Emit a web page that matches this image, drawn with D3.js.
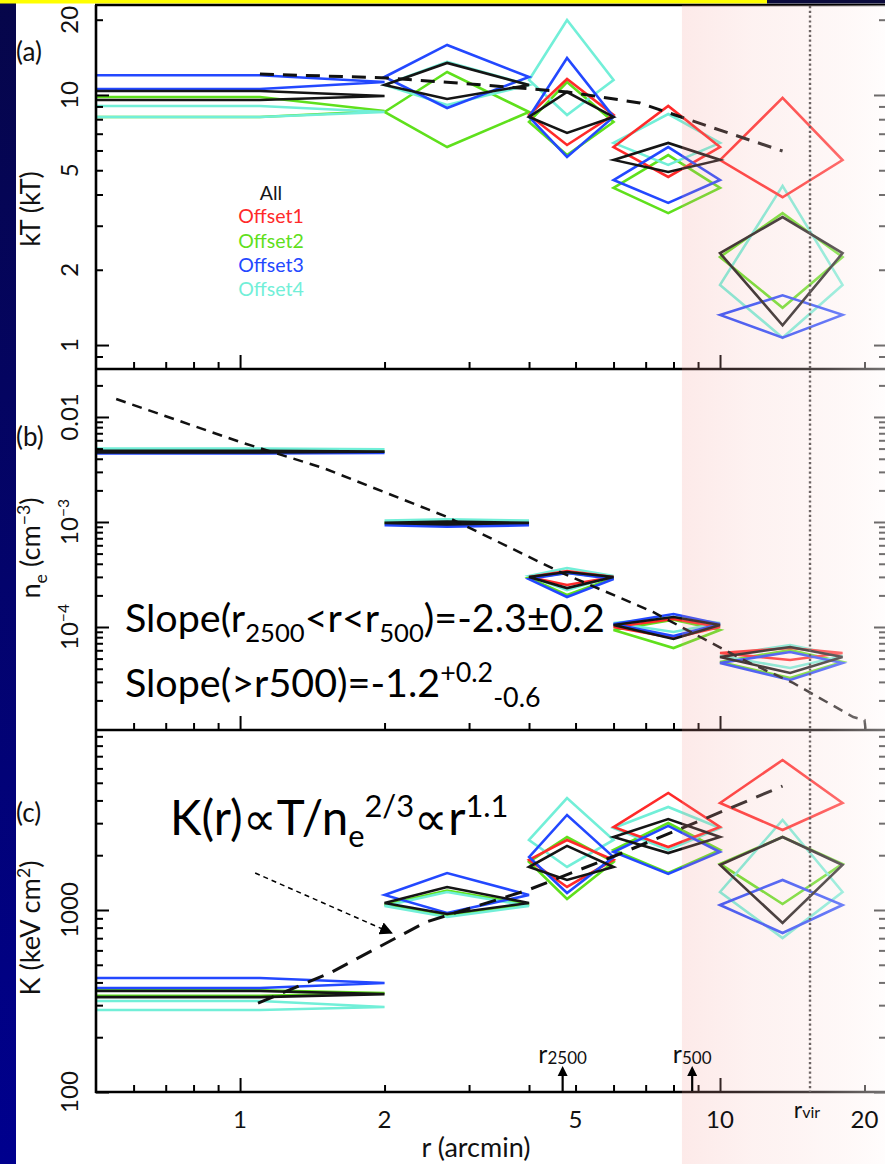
<!DOCTYPE html>
<html>
<head>
<meta charset="utf-8">
<script src="https://cdn.jsdelivr.net/npm/d3@7"></script>
<style>
html, body { margin: 0; padding: 0; background: #fff; }
svg { display: block; }
text { font-family: Lato, "Open Sans", sans-serif; }
</style>
</head>
<body>
<svg id="chart" width="885" height="1164"></svg>
<script>
// radial bins (arcmin); first bin starts at the centre
var binLo = [0, 2, 4, 6, 10];
var binHi = [2, 4, 6, 10, 18];
var midT = [1.1, 2.7, 4.8, 7.8, 13.5];
var midNe = [1.1, 2.7, 4.8, 8.0, 14.0];
var midK = [1.1, 2.7, 4.8, 7.8, 13.5];

var seriesNames = ["All", "Offset1", "Offset2", "Offset3", "Offset4"];

// [lower, value, upper] per bin
var ktAll  = [[9.55, 9.91, 10.37], [9.64, 10.96, 13.43], [7.05, 8.17, 10.28], [4.92, 5.5, 6.43], [1.2, 2.33, 3.25]];
var ktOff1 = [null, null, [6.31, 8.32, 11.59], [4.7, 6.19, 9.04], [3.9, 5.49, 9.73]];
var ktOff2 = [[8.17, 8.63, 9.82], [6.19, 8.55, 12.36], [5.75, 7.8, 11.27], [3.37, 4.25, 5.75], [1.41, 2.25, 3.37]];
var ktOff3 = [[10.57, 11.27, 12.0], [8.87, 11.8, 15.85], [5.65, 8.17, 14.06], [3.7, 4.57, 6.19], [1.07, 1.32, 1.58]];
var ktOff4 = [[8.17, 8.55, 9.04], [9.12, 10.96, 13.55], [8.32, 11.48, 19.95], [5.25, 6.43, 8.39], [1.07, 1.74, 4.33]];

var neAll  = [[4.6e-3, 4.68e-3, 4.76e-3], [9.5e-4, 9.8e-4, 1.01e-3], [2.35e-4, 2.99e-4, 3.34e-4], [7.69e-5, 1.045e-4, 1.245e-4], [3.65e-5, 5.18e-5, 6.45e-5]];
var neOff1 = [null, null, [2.51e-4, 2.99e-4, 3.41e-4], [7.86e-5, 1.0e-4, 1.19e-4], [4.85e-5, 5.65e-5, 6.31e-5]];
var neOff2 = [[4.62e-3, 4.7e-3, 4.78e-3], [9.5e-4, 9.8e-4, 1.01e-3], [2.02e-4, 2.93e-4, 3.27e-4], [6.3e-5, 9.36e-5, 1.17e-4], [3.27e-5, 4.65e-5, 6.04e-5]];
var neOff3 = [[4.5e-3, 4.55e-3, 4.62e-3], [9.0e-4, 9.3e-4, 9.6e-4], [1.93e-4, 2.86e-4, 3.27e-4], [8.2e-5, 1.07e-4, 1.33e-4], [3.13e-5, 4.54e-5, 5.78e-5]];
var neOff4 = [[4.85e-3, 4.92e-3, 5.0e-3], [1.0e-3, 1.03e-3, 1.06e-3], [2.25e-4, 3.06e-4, 3.65e-4], [8.96e-5, 1.09e-4, 1.245e-4], [4.07e-5, 5.3e-5, 6.74e-5]];

var kAll  = [[332, 345, 359], [951, 1093, 1338], [1462, 1723, 2250], [2056, 2518, 3162], [849, 1767, 2518]];
var kOff1 = [null, null, [1338, 1884, 2425], [2218, 2857, 4396], [2752, 3873, 6668]];
var kOff2 = [[338, 350, 362], [930, 1070, 1280], [1149, 1837, 2518], [1597, 2138, 3006], [1079, 1791, 2518]];
var kOff3 = [[373, 397, 423], [963, 1209, 1597], [1240, 1954, 3327], [1578, 2083, 2897], [748, 1065, 1462]];
var kOff4 = [[282, 293, 316], [916, 1052, 1256], [1723, 2425, 4121], [2138, 2823, 3681], [701, 1256, 3125]];

// model profiles (dashed)
var modelTr = [1.1, 2.02, 3.01, 4.82, 6.81, 9.69, 13.5];
var modelT  = [12.13, 11.7, 11.07, 10.28, 9.29, 7.38, 5.97];
var modelNer = [0.552, 1.0, 1.49, 2.70, 4.64, 7.25, 11.2, 14.2, 18.95, 20.0, 20.1];
var modelNe  = [0.01483, 5.78e-3, 3.27e-3, 1.117e-3, 3.34e-4, 1.39e-4, 4.85e-5, 2.93e-5, 1.39e-5, 1.30e-5, 1.07e-5];
var modelKr = [1.09, 1.54, 2.44, 3.98, 6.1, 9.17, 13.5];
var modelK  = [308, 451, 859, 1288, 2005, 3125, 4797];

// characteristic radii
var r2500 = 4.7, r500 = 8.75, rVir = 15.4, rShade = 8.33;

var xTickLabels = [1, 2, 5, 10, 20];
var tTickLabels = [1, 2, 5, 10, 20];

var colors = { All: "#151515", Offset1: "#ff2a2a", Offset2: "#5fe01c", Offset3: "#2348ff", Offset4: "#72efd8" };
// which series goes on top: black last
var drawOrder = [2, 4, 1, 3, 0];

var W = 885, H = 1164, L = 96, R = 887;

var svg = d3.select("#chart");
var defs = svg.append("defs");

var x = d3.scaleLog().domain([0.501, 22.28]).range([L, R]);
var yT = d3.scaleLog().domain([0.802, 22.9]).range([369, 5]);
var yN = d3.scaleLog().domain([1.045e-5, 0.02864]).range([730, 369]);
var yK = d3.scaleLog().domain([100, 9750]).range([1092, 730]);

// slide background bits
var nav = defs.append("linearGradient").attr("id", "navy").attr("x1", 0).attr("y1", 0).attr("x2", 0).attr("y2", 1);
nav.append("stop").attr("offset", 0).attr("stop-color", "#06064a");
nav.append("stop").attr("offset", 1).attr("stop-color", "#00008e");
svg.append("rect").attr("x", 0).attr("y", 3).attr("width", 16).attr("height", H - 3).attr("fill", "url(#navy)");
svg.append("rect").attr("x", 0).attr("y", 0).attr("width", 767).attr("height", 3.5).attr("fill", "#ffff00");
svg.append("rect").attr("x", 767).attr("y", 0).attr("width", W - 767).attr("height", 3.5).attr("fill", "#0b0b3c");

function rich(parent, parts, fs, anchor, scale) {
    scale = scale || 0.65;
    var t = parent.append("text").attr("font-size", fs).attr("text-anchor", anchor || "start");
    var cur = 0;
    parts.forEach(function(p) {
        var off = p[1] == "sub" ? fs * 0.25 : p[1] == "sup" ? -fs * 0.38 : 0;
        t.append("tspan").attr("dy", off - cur)
            .attr("font-size", p[1] ? fs * scale : fs)
            .text(p[0]);
        cur = off;
    });
    return t;
}

function fitSize(parent, parts, width, scale) {
    var t = rich(parent, parts, 30, "start", scale);
    var w = t.node().getBBox().width;
    t.remove();
    return 30 * width / w;
}

var panels = [
    { y: yT, top: 5, bottom: 369, mids: midT, data: [ktAll, ktOff1, ktOff2, ktOff3, ktOff4],
      mr: modelTr, mv: modelT, dash: "14,9", mw: 3 },
    { y: yN, top: 369, bottom: 730, mids: midNe, data: [neAll, neOff1, neOff2, neOff3, neOff4],
      mr: modelNer, mv: modelNe, dash: "10,7", mw: 2.5 },
    { y: yK, top: 730, bottom: 1092, mids: midK, data: [kAll, kOff1, kOff2, kOff3, kOff4],
      mr: modelKr, mv: modelK, dash: "17,10", mw: 3 }
];

function diamond(y, i, mid, d) {
    var xm = x(mid), xr = x(binHi[i]);
    if (binLo[i] == 0) {
        var x0 = L - 30;
        return "M" + x0 + "," + y(d[2]) + "L" + xm + "," + y(d[2]) + "L" + xr + "," + y(d[1]) +
               "L" + xm + "," + y(d[0]) + "L" + x0 + "," + y(d[0]);
    }
    var xl = x(binLo[i]);
    return "M" + xl + "," + y(d[1]) + "L" + xm + "," + y(d[2]) + "L" + xr + "," + y(d[1]) +
           "L" + xm + "," + y(d[0]) + "Z";
}

panels.forEach(function(p, pi) {
    var cid = "clip" + pi;
    defs.append("clipPath").attr("id", cid).append("rect")
        .attr("x", L).attr("y", p.top).attr("width", R - L).attr("height", p.bottom - p.top);
    var g = svg.append("g").attr("clip-path", "url(#" + cid + ")");

    drawOrder.forEach(function(si) {
        p.data[si].forEach(function(d, i) {
            if (!d) return;
            g.append("path")
                .attr("d", diamond(p.y, i, p.mids[i], d))
                .attr("fill", "none")
                .attr("stroke", colors[seriesNames[si]])
                .attr("stroke-width", 2.6)
                .attr("stroke-linejoin", "miter");
        });
    });

    var line = d3.line()
        .x(function(d) { return x(d[0]); })
        .y(function(d) { return p.y(d[1]); });
    g.append("path")
        .datum(p.mr.map(function(r, i) { return [r, p.mv[i]]; }))
        .attr("d", line)
        .attr("fill", "none")
        .attr("stroke", "#111")
        .attr("stroke-width", p.mw)
        .attr("stroke-dasharray", p.dash);

    // ticks
    var yt = p.y.ticks();
    var isMajor = function(v) { var l = Math.log10(v); return Math.abs(l - Math.round(l)) < 1e-6; };
    var ax = svg.append("g").attr("class", "axis");
    ax.append("g").attr("transform", "translate(" + L + ",0)")
        .call(d3.axisRight(p.y).tickValues(yt.filter(function(v) { return !isMajor(v); })).tickSize(7).tickFormat(""));
    ax.append("g").attr("transform", "translate(" + L + ",0)")
        .call(d3.axisRight(p.y).tickValues(yt.filter(isMajor)).tickSize(13).tickFormat(""));
    ax.append("g").attr("transform", "translate(" + R + ",0)")
        .call(d3.axisLeft(p.y).tickValues(yt.filter(function(v) { return !isMajor(v); })).tickSize(8).tickFormat(""));
    ax.append("g").attr("transform", "translate(" + R + ",0)")
        .call(d3.axisLeft(p.y).tickValues(yt.filter(isMajor)).tickSize(13).tickFormat(""));
    var xt = x.ticks();
    ax.append("g").attr("transform", "translate(0," + p.bottom + ")")
        .call(d3.axisTop(x).tickValues(xt.filter(function(v) { return !isMajor(v); })).tickSize(7).tickFormat(""));
    ax.append("g").attr("transform", "translate(0," + p.bottom + ")")
        .call(d3.axisTop(x).tickValues(xt.filter(isMajor)).tickSize(14).tickFormat(""));
});

svg.selectAll(".axis .domain").remove();
svg.selectAll(".axis line").attr("stroke", "#000").attr("stroke-width", 2);

// frame
var frame = svg.append("g").attr("stroke", "#000").attr("stroke-width", 2.6);
[5, 369, 730, 1092].forEach(function(yy) {
    frame.append("line").attr("x1", L - 1).attr("x2", R).attr("y1", yy).attr("y2", yy);
});
frame.append("line").attr("x1", L).attr("x2", L).attr("y1", 5).attr("y2", 1093);
frame.append("line").attr("x1", R).attr("x2", R).attr("y1", 5).attr("y2", 1093);

// r_vir dotted line
svg.append("line")
    .attr("x1", x(rVir)).attr("x2", x(rVir)).attr("y1", 6).attr("y2", 1092)
    .attr("stroke", "#333").attr("stroke-width", 2.4).attr("stroke-dasharray", "2.2,2.6");

// outskirts shading laid over everything right of it
var sh = defs.append("linearGradient").attr("id", "shade").attr("x1", 0).attr("y1", 0).attr("x2", 1).attr("y2", 0);
sh.append("stop").attr("offset", 0).attr("stop-color", "rgb(244,150,145)").attr("stop-opacity", 0.2);
sh.append("stop").attr("offset", 0.35).attr("stop-color", "rgb(248,196,192)").attr("stop-opacity", 0.22);
sh.append("stop").attr("offset", 0.7).attr("stop-color", "rgb(252,228,226)").attr("stop-opacity", 0.3);
sh.append("stop").attr("offset", 1).attr("stop-color", "rgb(255,250,250)").attr("stop-opacity", 0.45);
svg.append("rect")
    .attr("x", x(rShade)).attr("y", 5).attr("width", W - x(rShade)).attr("height", H - 5)
    .attr("fill", "url(#shade)");

// x tick labels
var lab = svg.append("g").attr("fill", "#111");
xTickLabels.forEach(function(v) {
    lab.append("text").attr("x", x(v)).attr("y", 1128).attr("text-anchor", "middle")
        .attr("font-size", 24).text(v);
});
var rv = lab.append("text").attr("x", x(rVir) - 3).attr("y", 1118).attr("text-anchor", "middle");
rv.append("tspan").attr("font-size", 23).text("r");
rv.append("tspan").attr("font-size", 16).text("vir");

svg.append("text").attr("x", 476).attr("y", 1157).attr("text-anchor", "middle")
    .attr("font-size", 27).attr("fill", "#111").text("r (arcmin)");

// y tick labels (rotated)
function yLabel(yy, parts) {
    var g = svg.append("g").attr("transform", "translate(78," + yy + ") rotate(-90)");
    rich(g, parts, 24, "middle").attr("fill", "#111");
}
tTickLabels.forEach(function(v) { yLabel(yT(v), [[String(v)]]); });
yLabel(yN(0.01), [["0.01"]]);
yLabel(yN(1e-3), [["10"], ["\u22123", "sup"]]);
yLabel(yN(1e-4), [["10"], ["\u22124", "sup"]]);
yLabel(yK(1000), [["1000"]]);
yLabel(yK(100), [["100"]]);

// axis titles, same size as the K title
var kTitle = [["K (keV cm"], ["2", "sup"], [")"]];
var titleFs = fitSize(svg, kTitle, 135);
function yTitle(yy, parts) {
    var g = svg.append("g").attr("transform", "translate(40," + yy + ") rotate(-90)");
    rich(g, parts, titleFs, "middle").attr("fill", "#111");
}
yTitle(209, [["kT (kT)"]]);
yTitle(548, [["n"], ["e", "sub"], [" (cm"], ["\u22123", "sup"], [")"]]);
yTitle(928, kTitle);

// panel letters
[["(a)", 61], ["(b)", 446], ["(c)", 822]].forEach(function(d) {
    svg.append("text").attr("x", 16).attr("y", d[1]).attr("font-size", 26).attr("fill", "#111").text(d[0]);
});

// legend
var legY = [200, 223, 248, 272, 296];
seriesNames.forEach(function(n, i) {
    svg.append("text").attr("x", 271).attr("y", legY[i]).attr("text-anchor", "middle")
        .attr("font-size", 19.5).attr("fill", colors[n]).text(n);
});

// annotations
var slope1 = [["Slope(r"], ["2500", "sub"], ["<r<r"], ["500", "sub"], [")=-2.3\u00b10.2"]];
var slopeFs = fitSize(svg, slope1, 480);
rich(svg.append("g").attr("transform", "translate(125,632)"), slope1, slopeFs).attr("fill", "#000");
rich(svg.append("g").attr("transform", "translate(125,697)"),
    [["Slope(>r500)=-1.2"], ["+0.2", "sup"], ["-0.6", "sub"]], slopeFs, "start", 0.68).attr("fill", "#000");
var kText = [["K(r)\u221dT/n"], ["e", "sub"], ["2/3", "sup"], ["\u221dr"], ["1.1", "sup"]];
rich(svg.append("g").attr("transform", "translate(170,835)"), kText, fitSize(svg, kText, 337)).attr("fill", "#000");

// pointer arrow to the entropy model
defs.append("marker").attr("id", "head").attr("viewBox", "0 0 10 10")
    .attr("refX", 9).attr("refY", 5).attr("markerWidth", 13).attr("markerHeight", 13)
    .attr("markerUnits", "userSpaceOnUse").attr("orient", "auto")
    .append("path").attr("d", "M0,0L10,5L0,10Z").attr("fill", "#000");
svg.append("line")
    .attr("x1", x(1.075)).attr("y1", yK(1597)).attr("x2", x(2.07)).attr("y2", yK(747))
    .attr("stroke", "#000").attr("stroke-width", 1.5).attr("stroke-dasharray", "5,4")
    .attr("marker-end", "url(#head)");

// r2500 / r500 markers
function rMark(r, sub) {
    var xx = x(r);
    svg.append("line").attr("x1", xx).attr("x2", xx).attr("y1", 1091).attr("y2", 1074)
        .attr("stroke", "#000").attr("stroke-width", 2.2);
    svg.append("path").attr("d", "M" + (xx - 5) + ",1076L" + xx + ",1066L" + (xx + 5) + ",1076Z").attr("fill", "#000");
    var t = svg.append("text").attr("x", xx).attr("y", 1063).attr("text-anchor", "middle").attr("fill", "#111");
    t.append("tspan").attr("font-size", 25).text("r");
    t.append("tspan").attr("font-size", 17).attr("dy", 1).text(sub);
}
rMark(r2500, "2500");
rMark(r500, "500");
</script>
</body>
</html>
